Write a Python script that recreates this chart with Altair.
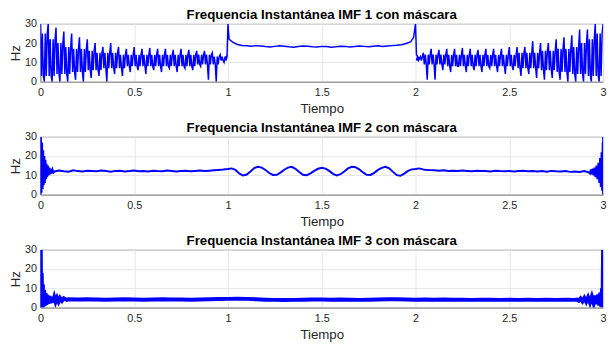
import altair as alt
import pandas as pd

# ---------------- IMF 1 ----------------
# spike peaks / troughs and dense core band in 0..1 s (one spike every 1/24 s)
imf1_a_peaks = [30, 30, 28, 26, 25, 23, 22, 20, 18, 20, 18, 17, 18, 17, 17.5, 17,
                17, 16.5, 17, 16.5, 16, 16, 15, 14]
imf1_a_troughs = [0, 0, 0, 0, 1, 0, 2, 3, 0, 4, 3, 5, 6, 4, 6, 5,
                  7, 5, 7, 6, 8, 1, 0, 10]
imf1_a_core_lo = [3, 3, 4, 4, 5, 5, 6, 6, 7, 7, 7, 8, 8, 8, 8, 8, 8, 8, 8, 8, 9, 9, 9, 11]
imf1_a_core_hi = [25, 22, 20, 18, 17, 17, 16, 15, 15, 15, 14, 14, 14, 14, 14, 14, 14, 14,
                  14, 14, 14, 14, 13, 13]
# plateau 1..2 s
imf1_mid_t = [0.985, 0.995, 1.0, 1.006] + [round(1.025 + 0.025 * i, 3) for i in range(39)] + [1.99, 2.0, 2.005, 2.015]
imf1_mid_v = [12.5, 13.5, 30, 22,
              20.5, 19.3, 18.8, 18.6, 18.4, 18.7, 18.5, 18.2, 18.0, 18.3, 18.6, 18.4, 18.1,
              17.9, 18.2, 18.5, 18.4, 18.1, 18.0, 18.3, 18.2, 17.9, 18.1, 18.4, 18.3, 18.0,
              18.2, 18.5, 18.3, 18.1, 18.4, 18.6, 18.3, 18.5, 18.7, 18.9, 19.2, 19.8, 20.8,
              23, 30, 14, 12.5]
# spike troughs / peaks and core band in 2..3 s
imf1_b_troughs = [12, 1, 1, 6, 5, 8, 5, 6, 5, 7, 5, 4, 6, 3, 4, 2,
                  1, 2, 1, 0, 0, 0, 0, 0]
imf1_b_peaks = [15, 17, 16.5, 17, 17, 17.5, 17, 16.5, 17, 17, 17, 18, 18, 18, 21, 20,
                20, 22, 23, 24, 27, 27, 30, 30]
imf1_b_core_lo = [11, 9, 9, 9, 8, 8, 8, 8, 8, 8, 8, 8, 8, 7, 7, 7, 6, 6, 5, 5, 4, 4, 3, 3]
imf1_b_core_hi = [13, 14, 14, 14, 14, 14, 14, 14, 14, 14, 14, 14, 14, 15, 15, 15, 16, 16,
                  17, 17, 18, 20, 22, 25]

# ---------------- IMF 2 ----------------
imf2_start_t = [0, 0.003, 0.006, 0.009, 0.012, 0.015, 0.018, 0.021, 0.024, 0.027, 0.03,
                0.033, 0.036, 0.04, 0.044, 0.048, 0.052, 0.056, 0.06, 0.065, 0.07]
imf2_start_v = [0, 30, 1, 27, 3, 23, 5, 20, 6, 18, 8, 16, 9, 15, 10, 14, 10.5, 13.5, 11, 13, 11.5]
imf2_base1_v = [12.0, 12.5, 12.1, 11.9, 12.6, 12.2, 12.0, 12.4, 12.3, 12.1, 12.5, 12.2, 11.9,
                12.3, 12.4, 12.0, 12.2, 12.5, 12.1, 12.3, 12.0, 12.4, 12.2, 12.1, 12.5, 12.3,
                12.0, 12.2, 12.4, 12.1, 12.3, 12.5, 12.2, 12.4, 12.6, 12.8, 13.0]
imf2_wave_v = [13.3, 13.6, 12.8, 11.0, 9.9, 10.4, 12.0, 13.8, 14.4, 14.0, 12.8, 11.2, 10.2,
               10.3, 11.4, 12.9, 14.0, 14.4, 13.4, 11.7, 10.3, 10.1, 11.0, 12.3, 13.4, 13.9,
               13.5, 12.3, 10.8, 10.0, 10.6, 12.0, 13.6, 14.4, 14.2, 13.1, 11.5, 10.3, 10.2,
               11.3, 12.8, 13.9, 14.4, 13.6, 11.8, 10.1, 9.8, 10.9, 12.3, 13.1, 13.3, 13.6, 13.1]
imf2_base2_v = [12.9, 12.7, 12.6, 12.4, 12.6, 12.3, 12.4, 12.2, 12.5, 12.3, 12.1, 12.4, 12.2,
                12.3, 12.0, 12.4, 12.2, 12.1, 12.3, 12.0, 12.2, 12.4, 12.1, 12.3, 12.0, 12.2,
                11.9, 12.3, 12.1, 12.0, 12.2, 11.8, 12.0, 11.7, 12.2, 11.5]
imf2_end_t = [2.93, 2.935, 2.94, 2.945, 2.95, 2.955, 2.96, 2.965, 2.97, 2.975, 2.98, 2.984,
              2.988, 2.992, 2.995, 2.998, 3.0, 3.0]
imf2_end_v = [11, 13, 10.5, 13.5, 10, 14, 9, 15, 8, 16.5, 6, 19, 4, 22, 2, 27, 0, 30]

# ---------------- IMF 3 ----------------
imf3_start_t = [0, 0.002, 0.004, 0.007, 0.01, 0.013, 0.016, 0.02, 0.024, 0.028, 0.032, 0.037,
                0.042, 0.048, 0.054, 0.06, 0.067, 0.074, 0.081, 0.089, 0.097, 0.105, 0.115,
                0.125, 0.14]
imf3_start_v = [0, 30, 0, 18, 0, 12, 0.5, 9, 1, 7.5, 1.5, 6.5, 2, 6, 2.3, 5.6, 2.6, 5.3, 2.9,
                5.0, 3.1, 4.9, 3.5, 4.8, 4.0]
imf3_base_v = [4.3, 4.2, 4.3, 4.2, 4.1, 4.2, 4.3, 4.2, 4.1, 4.2, 4.3, 4.2, 4.2, 4.1, 4.2, 4.3,
               4.4, 4.5, 4.6, 4.5, 4.3, 4.1, 4.0, 3.9, 4.0, 4.1, 4.2, 4.2, 4.1, 4.2, 4.1, 4.0,
               4.1, 4.2, 4.3, 4.3, 4.2, 4.1, 4.2, 4.1, 4.2, 4.1, 4.1, 4.0, 4.1, 4.1, 4.0, 4.1,
               4.0, 4.1, 4.0, 4.1, 4.0, 4.1, 4.0]
imf3_end_t = [2.86, 2.87, 2.88, 2.89, 2.9, 2.91, 2.92, 2.93, 2.94, 2.95, 2.96, 2.967, 2.974,
              2.98, 2.985, 2.99, 2.994, 2.997, 3.0]
imf3_end_v = [4.2, 3.6, 4.7, 3.3, 5.0, 3.0, 5.3, 2.6, 5.7, 2.2, 6.2, 1.7, 6.8, 1.1, 7.8, 0.5,
              10, 0, 30]

titles = ["Frequencia Instantánea IMF 1 con máscara",
          "Frequencia Instantánea IMF 2 con máscara",
          "Frequencia Instantánea IMF 3 con máscara"]
x_ticks = [0, 0.5, 1, 1.5, 2, 2.5, 3]
y_ticks = [0, 10, 20, 30]


# ---- build tables ----
def imf1_table():
    t, v = [], []
    step = 1 / 192
    for k in range(24):
        base = k / 24
        seq = [imf1_a_peaks[k], imf1_a_core_lo[k], imf1_a_core_hi[k], imf1_a_core_lo[k],
               imf1_a_troughs[k], imf1_a_core_hi[k], imf1_a_core_lo[k], imf1_a_core_hi[k]]
        for j, val in enumerate(seq):
            t.append(base + j * step)
            v.append(val)
    t += imf1_mid_t
    v += imf1_mid_v
    for k in range(24):
        base = 2 + k / 24
        seq = [imf1_b_core_lo[k], imf1_b_core_hi[k], imf1_b_core_lo[k], imf1_b_troughs[k],
               imf1_b_core_hi[k], imf1_b_core_lo[k], imf1_b_core_hi[k], imf1_b_peaks[k]]
        for j, val in enumerate(seq):
            t.append(base + (j + 1) * step)
            v.append(val)
    return pd.DataFrame({"t": t, "v": v, "o": range(len(t))})


def imf2_table():
    t = list(imf2_start_t)
    v = list(imf2_start_v)
    t += [round(0.075 + 0.025 * i, 3) for i in range(len(imf2_base1_v))]
    v += imf2_base1_v
    t += [round(1.0 + 0.02 * i, 3) for i in range(len(imf2_wave_v))]
    v += imf2_wave_v
    t += [round(2.05 + 0.025 * i, 3) for i in range(len(imf2_base2_v))]
    v += imf2_base2_v
    t += imf2_end_t
    v += imf2_end_v
    return pd.DataFrame({"t": t, "v": v, "o": range(len(t))})


def imf3_table():
    t = list(imf3_start_t)
    v = list(imf3_start_v)
    t += [round(0.15 + 0.05 * i, 3) for i in range(len(imf3_base_v))]
    v += imf3_base_v
    t += imf3_end_t
    v += imf3_end_v
    return pd.DataFrame({"t": t, "v": v, "o": range(len(t))})


def panel(df, title, sw):
    return alt.Chart(df).mark_line(color="#0000ff", strokeWidth=sw, clip=True).encode(
        x=alt.X("t:Q", scale=alt.Scale(domain=[0, 3], nice=False),
                axis=alt.Axis(values=x_ticks, format="~g", title="Tiempo",
                              labelFlush=False, ticks=False, labelPadding=5,
                              titlePadding=4)),
        y=alt.Y("v:Q", scale=alt.Scale(domain=[0, 30], nice=False),
                axis=alt.Axis(values=y_ticks, title="Hz", ticks=False,
                              labelPadding=4, titlePadding=2)),
        order="o:Q",
    ).properties(width=573, height=59,
                 title=alt.TitleParams(title, fontSize=13.5, fontWeight="bold",
                                       font="Liberation Sans", offset=-4,
                                       color="#000000"))


chart = alt.vconcat(
    panel(imf1_table(), titles[0], 1.5),
    panel(imf2_table(), titles[1], 2),
    panel(imf3_table(), titles[2], 4),
    spacing=6,
).configure(background="white", padding={"left": 0, "top": -3, "right": 0, "bottom": 0}
).configure_view(stroke="#8c8c8c", strokeWidth=1
).configure_axis(labelFont="Liberation Sans", labelFontSize=11, labelColor="#262626",
                 titleFont="Liberation Sans", titleFontSize=13.5, titleFontWeight="normal",
                 titleColor="#262626", gridColor="#e6e6e6", domainColor="#8c8c8c")

chart.save("out.html", embed_options={"renderer": "svg", "actions": False})
